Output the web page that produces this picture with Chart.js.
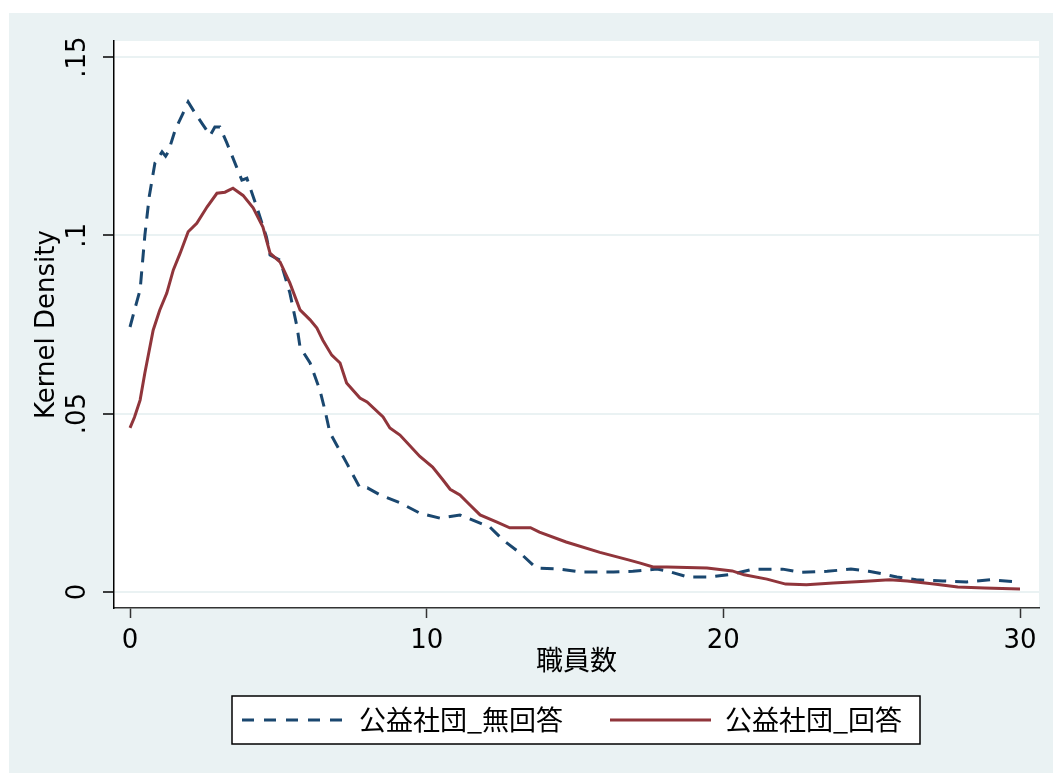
<!DOCTYPE html>
<html>
<head>
<meta charset="utf-8">
<script src="https://cdn.jsdelivr.net/npm/chart.js@4.4.1/dist/chart.umd.min.js"></script>
<style>
  html, body { margin: 0; padding: 0; background: #fff; }
  canvas { display: block; }
</style>
</head>
<body>
<canvas id="densityChart" width="1053" height="773"></canvas>
<script>
// 公益社団_無回答 (dashed)
const noRespX = [0, 0.2, 0.34, 0.5, 0.65, 0.84, 1.08, 1.2, 1.29, 1.52, 1.79, 1.96, 2.19, 2.46, 2.7, 2.86, 3.03, 3.26, 3.6, 3.77, 3.94, 4.27, 4.6, 4.72, 5.06, 5.39, 5.63, 5.73, 6.07, 6.4, 6.57, 6.74, 7.3, 7.75, 8.0, 8.43, 9.1, 9.77, 10.45, 11.12, 11.8, 12.13, 12.57, 13.15, 13.7, 14.5, 15.2, 16.3, 16.95, 17.76, 18.1, 18.8, 19.55, 20.3, 21.0, 22.0, 22.6, 23.5, 24.3, 24.9, 25.4, 25.85, 26.5, 27.4, 28.2, 29.0, 30];
const noRespY = [0.0743, 0.0805, 0.0847, 0.1, 0.111, 0.1203, 0.1234, 0.1222, 0.1234, 0.1295, 0.1343, 0.1374, 0.1343, 0.131, 0.128, 0.1304, 0.1304, 0.126, 0.119, 0.1155, 0.116, 0.108, 0.0995, 0.0945, 0.093, 0.0838, 0.0743, 0.0687, 0.0642, 0.0566, 0.051, 0.0446, 0.0362, 0.0292, 0.0292, 0.0272, 0.025, 0.0221, 0.0207, 0.0216, 0.0193, 0.0182, 0.0146, 0.0109, 0.0067, 0.0064, 0.0056, 0.0056, 0.0058, 0.0064, 0.0059, 0.0042, 0.0042, 0.005, 0.0064, 0.0064, 0.0055, 0.0058, 0.0064, 0.0058, 0.005, 0.0042, 0.0034, 0.0031, 0.0028, 0.0034, 0.0028];

// 公益社団_回答 (solid)
const respX = [0, 0.15, 0.34, 0.5, 0.78, 1.0, 1.24, 1.46, 1.69, 1.96, 2.25, 2.6, 2.93, 3.2, 3.47, 3.81, 4.15, 4.48, 4.72, 5.06, 5.39, 5.73, 6.07, 6.3, 6.5, 6.8, 7.08, 7.3, 7.75, 7.99, 8.53, 8.76, 9.1, 9.77, 10.2, 10.55, 10.79, 11.12, 11.46, 11.8, 12.37, 12.8, 13.5, 13.8, 14.7, 15.84, 16.8, 17.2, 17.63, 18.1, 19.45, 20.3, 20.7, 21.47, 22.1, 22.8, 23.7, 24.8, 25.6, 26.2, 27.1, 27.9, 28.8, 30];
const respY = [0.046, 0.049, 0.0538, 0.0614, 0.0734, 0.079, 0.0838, 0.0903, 0.095, 0.101, 0.1034, 0.108, 0.1118, 0.1121, 0.1132, 0.1112, 0.1077, 0.1023, 0.095, 0.0925, 0.0866, 0.0791, 0.0763, 0.074, 0.0706, 0.0664, 0.0642, 0.0586, 0.0544, 0.0533, 0.0491, 0.046, 0.044, 0.038, 0.035, 0.0314, 0.0288, 0.0272, 0.0244, 0.0216, 0.0196, 0.018, 0.018, 0.0168, 0.014, 0.0111, 0.009, 0.0081, 0.007, 0.007, 0.0067, 0.0059, 0.0048, 0.0036, 0.0022, 0.002, 0.0025, 0.003, 0.0034, 0.0031, 0.0022, 0.0014, 0.0011, 0.0008];

const xTicks = [0, 10, 20, 30];
const yTicks = [0, 0.05, 0.1, 0.15];
const yTickLabels = ["0", ".05", ".1", ".15"];
const seriesNames = ["公益社団_無回答", "公益社団_回答"];

const BLUE = "#1a476f";
const RED = "#90353b";
const FONT = "'DejaVu Sans', 'Noto Sans CJK JP', sans-serif";
const CJK = "'Noto Sans CJK JP', 'DejaVu Sans', sans-serif";

const toPoints = (xs, ys) => xs.map((x, i) => ({ x: x, y: ys[i] }));

const backgroundPlugin = {
  id: "stataBackground",
  beforeDraw(chart) {
    const { ctx, chartArea: a } = chart;
    ctx.save();
    ctx.fillStyle = "#ffffff";
    ctx.fillRect(0, 0, chart.width, chart.height);
    ctx.fillStyle = "#eaf2f3";
    ctx.fillRect(9, 13, chart.width - 9, chart.height - 13);
    ctx.fillStyle = "#ffffff";
    ctx.fillRect(a.left, a.top, a.right - a.left, a.bottom - a.top);
    ctx.restore();
  }
};

// rotated y tick labels + framed legend
const extrasPlugin = {
  id: "stataExtras",
  afterDraw(chart) {
    const ctx = chart.ctx;
    const yScale = chart.scales.y;
    ctx.save();
    ctx.fillStyle = "#000";
    ctx.font = "26px " + FONT;
    ctx.textAlign = "center";
    ctx.textBaseline = "middle";
    yTicks.forEach((v, i) => {
      const py = yScale.getPixelForValue(v);
      ctx.save();
      ctx.translate(78, py);
      ctx.rotate(-Math.PI / 2);
      ctx.fillText(yTickLabels[i], 0, 0);
      ctx.restore();
    });

    // legend box
    ctx.fillStyle = "#fff";
    ctx.fillRect(232, 696, 688, 48);
    ctx.strokeStyle = "#000";
    ctx.lineWidth = 1.5;
    ctx.strokeRect(232, 696, 688, 48);

    const ly = 720;
    ctx.lineWidth = 3;
    ctx.strokeStyle = BLUE;
    ctx.setLineDash([12, 10]);
    ctx.beginPath();
    ctx.moveTo(242, ly);
    ctx.lineTo(343, ly);
    ctx.stroke();
    ctx.setLineDash([]);
    ctx.strokeStyle = RED;
    ctx.beginPath();
    ctx.moveTo(610, ly);
    ctx.lineTo(711, ly);
    ctx.stroke();

    ctx.fillStyle = "#000";
    ctx.font = "27px " + CJK;
    ctx.textAlign = "left";
    ctx.textBaseline = "middle";
    ctx.fillText(seriesNames[0], 359, ly);
    ctx.fillText(seriesNames[1], 725, ly);
    ctx.restore();
  }
};

const ctx = document.getElementById("densityChart").getContext("2d");
const densityChart = new Chart(ctx, {
  type: "scatter",
  data: {
    datasets: [
      {
        label: seriesNames[0],
        data: toPoints(noRespX, noRespY),
        showLine: true,
        borderColor: BLUE,
        borderWidth: 3,
        borderDash: [13, 9],
        pointRadius: 0,
        tension: 0,
        order: 1
      },
      {
        label: seriesNames[1],
        data: toPoints(respX, respY),
        showLine: true,
        borderColor: RED,
        borderWidth: 3,
        pointRadius: 0,
        tension: 0,
        order: 0
      }
    ]
  },
  options: {
    responsive: false,
    animation: false,
    devicePixelRatio: 1,
    layout: { padding: { top: 41, right: 14, left: 0, bottom: 85 } },
    plugins: {
      legend: { display: false },
      tooltip: { enabled: false }
    },
    scales: {
      x: {
        type: "linear",
        min: -0.54,
        max: 30.64,
        afterBuildTicks: s => { s.ticks = xTicks.map(v => ({ value: v })); },
        afterFit: s => { s.height = 80; },
        ticks: {
          color: "#000",
          font: { family: FONT, size: 26 },
          padding: 8,
          maxRotation: 0,
          callback: v => String(v)
        },
        grid: {
          drawOnChartArea: false,
          drawTicks: true,
          tickLength: 10,
          tickColor: "#333",
          tickWidth: 1.5
        },
        border: { display: true, color: "#333", width: 1.5 },
        title: {
          display: true,
          text: "職員数",
          color: "#000",
          font: { family: CJK, size: 27 },
          padding: { top: 0, bottom: 12 }
        }
      },
      y: {
        type: "linear",
        min: -0.0045,
        max: 0.1545,
        afterBuildTicks: s => { s.ticks = yTicks.map(v => ({ value: v })); },
        afterFit: s => { s.width = 114; },
        ticks: { display: false },
        grid: {
          color: "#eaf2f3",
          lineWidth: 2,
          drawTicks: true,
          tickLength: 11,
          tickColor: "#000",
          tickWidth: 1.5
        },
        border: { display: true, color: "#000", width: 1.5 },
        title: {
          display: true,
          text: "Kernel Density",
          color: "#000",
          font: { family: FONT, size: 26 },
          padding: { top: 32, bottom: 0 }
        }
      }
    }
  },
  plugins: [backgroundPlugin, extrasPlugin]
});
</script>
</body>
</html>
